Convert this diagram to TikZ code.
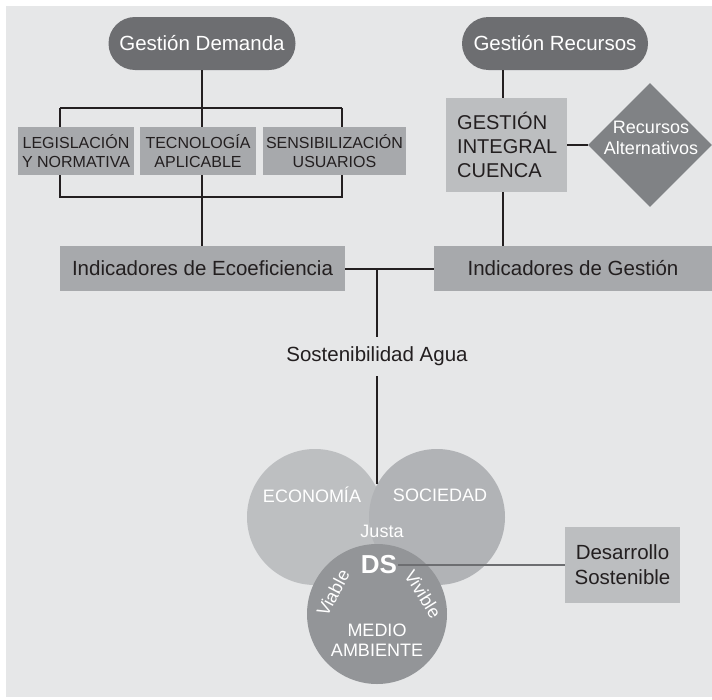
\documentclass[tikz,border=0pt]{standalone}
\usepackage{fontspec}
\setmainfont{Liberation Sans}
\usetikzlibrary{shapes.geometric}
\definecolor{bg}{HTML}{E6E7E8}
\definecolor{pill}{HTML}{6D6E71}
\definecolor{boxA}{HTML}{A7A9AC}
\definecolor{boxB}{HTML}{BCBEC0}
\definecolor{diam}{HTML}{808285}
\definecolor{ink}{HTML}{231F20}
\definecolor{cEco}{HTML}{BDBFC1}
\definecolor{cSoc}{HTML}{B1B3B6}
\definecolor{cMed}{HTML}{939598}
\tikzset{
  pillbox/.style={rectangle, rounded corners=26.5pt, fill=pill, text=white, inner sep=0pt,
    minimum width=187pt, minimum height=53pt, font=\fontsize{20.5}{24}\selectfont},
  smallbox/.style={rectangle, fill=boxA, text=ink, inner sep=0pt, align=center,
    minimum height=48pt, font=\fontsize{16}{19}\selectfont},
  indbox/.style={rectangle, fill=boxA, text=ink, inner sep=0pt,
    minimum height=45pt, font=\fontsize{20.5}{24}\selectfont},
  conn/.style={draw=ink, line width=2pt},
  wtext/.style={text=white, inner sep=0pt, font=\fontsize{18}{20}\selectfont, align=center},
}
\begin{document}
\begin{tikzpicture}[x=1pt,y=-1pt]
\useasboundingbox (0,0) rectangle (712,699);
\fill[bg] (6,6) rectangle (712,697);

% top pills
\node[pillbox] (gd) at (202,43.5) {Gestión Demanda};
\node[pillbox, minimum width=186pt] (gr) at (555,43.5) {Gestión Recursos};

% demand boxes
\node[smallbox, minimum width=116pt] (leg) at (76,151) {LEGISLACIÓN\\Y NORMATIVA};
\node[smallbox, minimum width=116pt] (tec) at (198,151) {TECNOLOGÍA\\APLICABLE};
\node[smallbox, minimum width=143pt] (sen) at (334.5,151) {SENSIBILIZACIÓN\\USUARIOS};

% indicator boxes
\node[indbox, minimum width=285pt] (eco) at (202.5,268.5) {Indicadores de Ecoeficiencia};
\node[indbox, minimum width=278pt] (ges) at (573,268.5) {Indicadores de Gestión};

% resources
\node[rectangle, fill=boxB, text=ink, minimum width=121pt, minimum height=94pt, inner sep=0pt] (gic) at (506.5,145) {};
\node[anchor=west, align=left, text=ink, inner sep=0pt, font=\fontsize{20}{24}\selectfont] at (457,145) {GESTIÓN\\INTEGRAL\\CUENCA};
\node[diamond, fill=diam, minimum width=124pt, minimum height=124pt, inner sep=0pt] (ra) at (650,145) {};
\node[text=white, align=center, inner sep=0pt, font=\fontsize{18}{21}\selectfont] at (651,137.5) {Recursos\\Alternativos};

% sostenibilidad
\node[text=ink, inner sep=0pt, minimum height=39pt, font=\fontsize{20.5}{24}\selectfont] (sa) at (377,356.5) {Sostenibilidad Agua};

% circles
\fill[cEco] (315,517) circle[radius=68pt];
\fill[cSoc] (437,517) circle[radius=68pt];
\fill[cMed] (377,614) circle[radius=70pt];
\node[wtext] at (312,495) {ECONOMÍA};
\node[wtext] at (440,495) {SOCIEDAD};
\node[wtext] at (382,531) {Justa};
\node[text=white, inner sep=1pt, font=\fontsize{26}{28}\bfseries\selectfont] (ds) at (379,565) {DS};
\node[wtext, rotate=62] at (333,593) {Viable};
\node[wtext, rotate=-58] at (423,594) {Vivible};
\node[wtext] at (377,640) {MEDIO\\AMBIENTE};

% desarrollo sostenible
\node[rectangle, fill=boxB, text=ink, align=center, inner sep=0pt, minimum width=115pt, minimum height=76pt,
  font=\fontsize{20.5}{25}\selectfont] (dsb) at (622.5,565) {Desarrollo\\Sostenible};

% coordinates
\coordinate (bl) at (60,108);
\coordinate (br) at (342,108);
\coordinate (bl2) at (60,197);
\coordinate (br2) at (342,197);
\coordinate (rx) at (503,100);
\coordinate (j) at (377,268.5);
\coordinate (vtop) at (377,484);

% connectors
\draw[conn] (gd.south) -- (gd.south |- tec.north);
\draw[conn] (bl) -- (br);
\draw[conn] (bl) -- (bl |- leg.north);
\draw[conn] (br) -- (br |- sen.north);
\draw[conn] (bl |- leg.south) -- (bl2) -- (br2) -- (br |- sen.south);
\draw[conn] (gd.south |- tec.south) -- (gd.south |- eco.north);
\draw[conn] (rx |- gr.south) -- (rx |- gic.north);
\draw[conn] (rx |- gic.south) -- (rx |- ges.north);
\draw[conn] (gic.east) -- (ra.west);
\draw[conn] (eco.east) -- (ges.west);
\draw[conn] (j) -- (sa.north);
\draw[conn] (sa.south) -- (vtop);
\draw[draw=pill, line width=2pt] (ds.east) -- (dsb.west);
\end{tikzpicture}
\end{document}
